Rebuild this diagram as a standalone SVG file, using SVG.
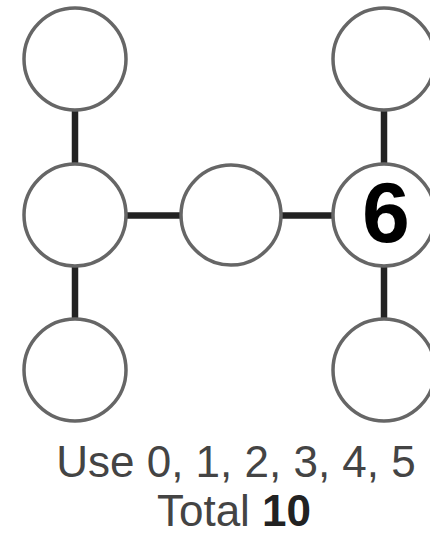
<svg xmlns="http://www.w3.org/2000/svg" width="430" height="536" viewBox="0 0 430 536">
<style>
.node circle{fill:#fff;stroke:#666;stroke-width:3.5}
.edge{stroke:#222;stroke-width:6.5;stroke-linecap:butt}
.lbl{font-family:"Liberation Sans",Arial,sans-serif;fill:#444;font-size:44px;text-anchor:middle}
.num{font-family:"Liberation Sans",Arial,sans-serif;font-weight:bold;fill:#000;font-size:86px;text-anchor:middle}
</style>
<rect width="430" height="536" fill="#fff"/>
<g id="connectors">
<line class="edge" x1="75" y1="110" x2="75" y2="164"/>
<line class="edge" x1="75" y1="266" x2="75" y2="319"/>
<line class="edge" x1="126" y1="215.5" x2="180" y2="215.5"/>
<line class="edge" x1="282" y1="215.5" x2="333" y2="215.5"/>
<line class="edge" x1="384" y1="110" x2="384" y2="164"/>
<line class="edge" x1="384" y1="266" x2="384" y2="319"/>
</g>
<g id="n-left-top" class="node"><circle cx="75" cy="59" r="51"/></g>
<g id="n-left-mid" class="node"><circle cx="75" cy="215" r="51"/></g>
<g id="n-left-bot" class="node"><circle cx="75" cy="370" r="51"/></g>
<g id="n-center" class="node"><circle cx="231" cy="215" r="50"/></g>
<g id="n-right-top" class="node"><circle cx="384" cy="59" r="51"/></g>
<g id="n-right-mid" class="node"><circle cx="384" cy="215" r="51"/><text class="num" x="386" y="242">6</text></g>
<g id="n-right-bot" class="node"><circle cx="384" cy="370" r="51"/></g>
<g id="caption">
<text class="lbl" x="236" y="477">Use 0, 1, 2, 3, 4, 5</text>
<text class="lbl" x="234" y="526">Total <tspan font-weight="bold" fill="#222">10</tspan></text>
</g>
</svg>
